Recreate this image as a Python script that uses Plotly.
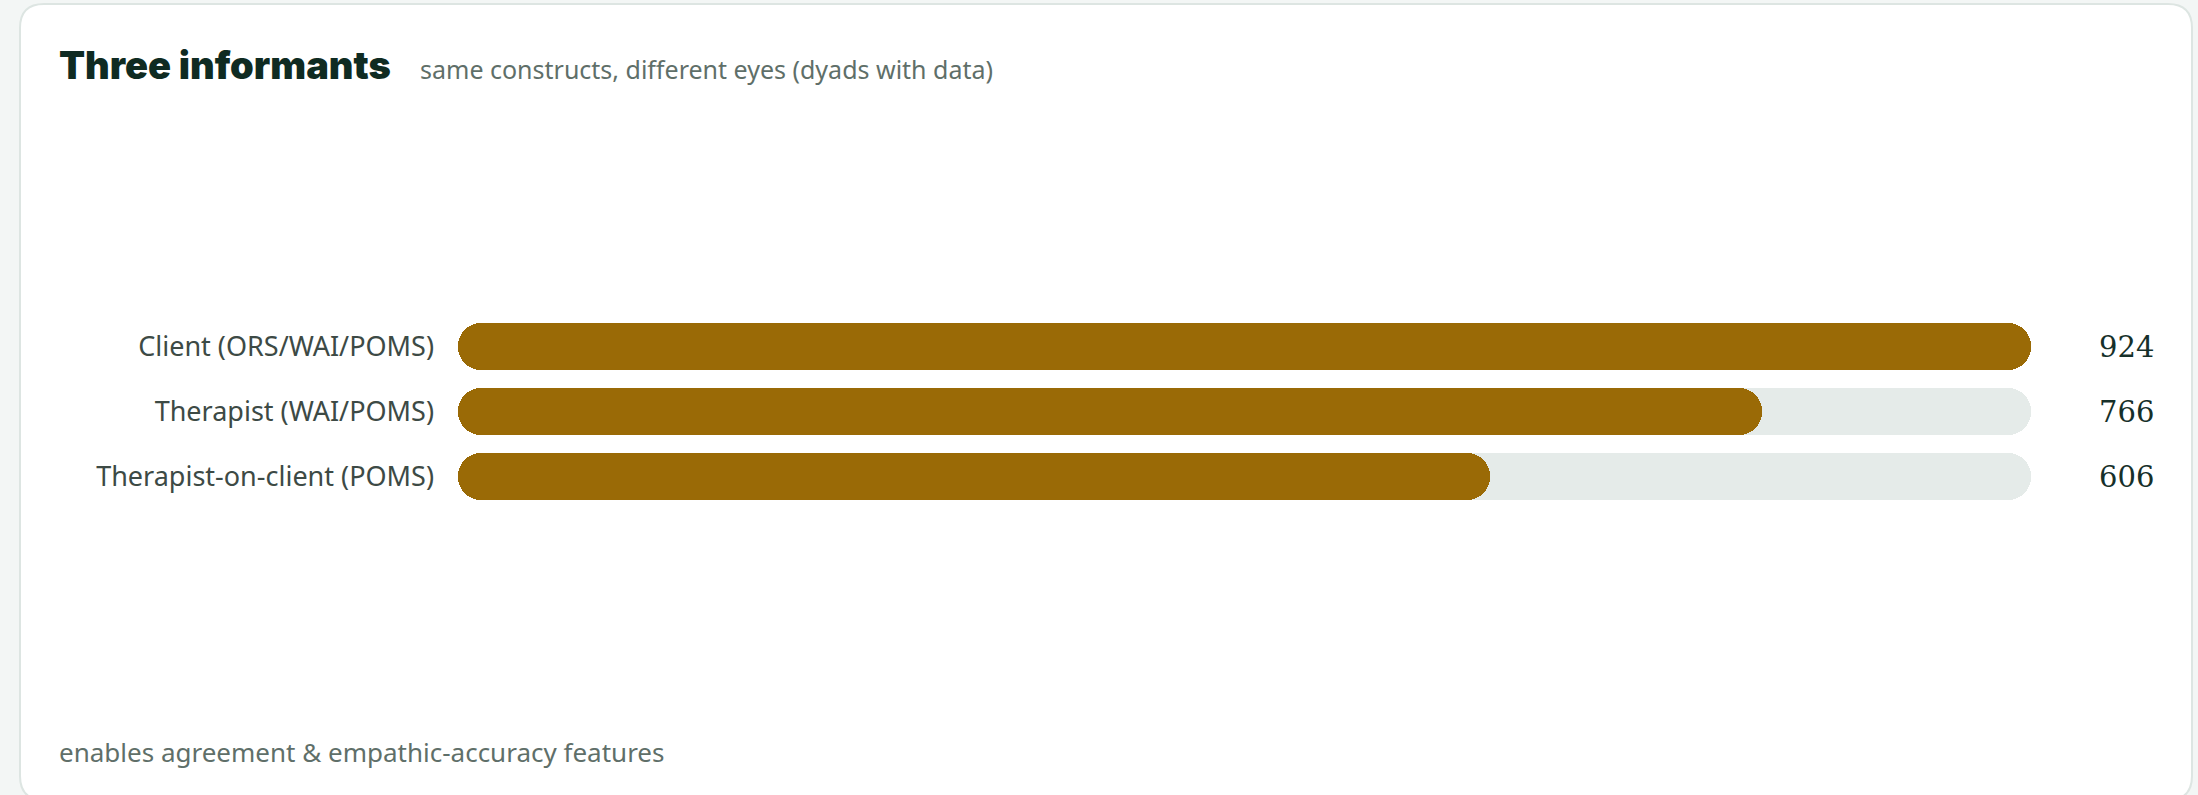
import plotly.graph_objects as go

# ---- data ----
categories = ["Client (ORS/WAI/POMS)", "Therapist (WAI/POMS)", "Therapist-on-client (POMS)"]
values = [924, 766, 606]
title_text = "Three informants"
subtitle_text = "same constructs, different eyes (dyads with data)"
footer_text = "enables agreement &amp; empathic-accuracy features"

# ---- layout geometry (pixels) ----
W, H = 2198, 795
L, R, T, B = 458, 167, 314, 286
PW, PH = W - L - R, H - T - B

def px_x(p):
    return (p - L) / PW

def px_y(p):
    return (H - B - p) / PH

GOLD = "#9a6a06"
TRACK = "#e5ebe9"
PAGE = "#f3f6f5"
max_v = max(values)

fig = go.Figure()

def pill(vals, color):
    # draw each bar as two halves from its middle so both ends get rounded
    for direction in (1, -1):
        bases = [v * (0.45 if direction == 1 else 0.55) for v in vals]
        lengths = [(v - b) if direction == 1 else -b for v, b in zip(vals, bases)]
        fig.add_trace(go.Bar(
            y=categories, x=lengths, base=bases, orientation="h",
            width=0.71, marker=dict(color=color, cornerradius="50%", line=dict(width=0)),
            hoverinfo="skip", showlegend=False,
        ))

pill([max_v] * len(values), TRACK)
pill(values, GOLD)

annotations = []
for c, v in zip(categories, values):
    annotations.append(dict(
        xref="paper", yref="y", x=1, y=c, xshift=125, xanchor="right", yanchor="middle",
        text=str(v), showarrow=False,
        font=dict(family="DejaVu Serif", size=29, color="#16302a"),
    ))

annotations += [
    dict(xref="paper", yref="paper", x=px_x(57), y=px_y(65), xanchor="left", yanchor="middle",
         text=title_text, showarrow=False,
         font=dict(family="Inter", size=38, weight=900, color="#0f2b22")),
    dict(xref="paper", yref="paper", x=px_x(418), y=px_y(69), xanchor="left", yanchor="middle",
         text=subtitle_text, showarrow=False,
         font=dict(family="Noto Sans", size=25, color="#5f6f69")),
    dict(xref="paper", yref="paper", x=px_x(57), y=px_y(752), xanchor="left", yanchor="middle",
         text=footer_text, showarrow=False,
         font=dict(family="Noto Sans", size=26, color="#5f6f69")),
]

# card outline
cl, ct, cr, cb, rad = 20, 4, 2192, 800, 24
path = (
    f"M {px_x(cl + rad)},{px_y(ct)} L {px_x(cr - rad)},{px_y(ct)} "
    f"Q {px_x(cr)},{px_y(ct)} {px_x(cr)},{px_y(ct + rad)} "
    f"L {px_x(cr)},{px_y(cb - rad)} Q {px_x(cr)},{px_y(cb)} {px_x(cr - rad)},{px_y(cb)} "
    f"L {px_x(cl + rad)},{px_y(cb)} Q {px_x(cl)},{px_y(cb)} {px_x(cl)},{px_y(cb - rad)} "
    f"L {px_x(cl)},{px_y(ct + rad)} Q {px_x(cl)},{px_y(ct)} {px_x(cl + rad)},{px_y(ct)} Z"
)

fig.update_layout(
    width=W, height=H,
    margin=dict(l=L, r=R, t=T, b=B, pad=0),
    paper_bgcolor=PAGE,
    plot_bgcolor="rgba(0,0,0,0)",
    barmode="overlay",
    bargap=0,
    annotations=annotations,
    shapes=[dict(type="path", xref="paper", yref="paper", path=path, layer="below",
                 fillcolor="#ffffff", line=dict(color="#dde5e2", width=2))],
    xaxis=dict(range=[0, max_v], visible=False, fixedrange=True),
    yaxis=dict(type="category", categoryarray=categories, categoryorder="array",
               range=[2.5, -0.5], showgrid=False, zeroline=False, showline=False,
               ticks="", ticklabelstandoff=23, fixedrange=True,
               tickfont=dict(family="Noto Sans", size=27, color="#3d4a45")),
)

fig.write_html(
    "out.html",
    config={"displayModeBar": False},
    post_script=f"document.body.style.margin='0';document.body.style.overflow='hidden';"
                f"document.body.style.background='{PAGE}';",
)
